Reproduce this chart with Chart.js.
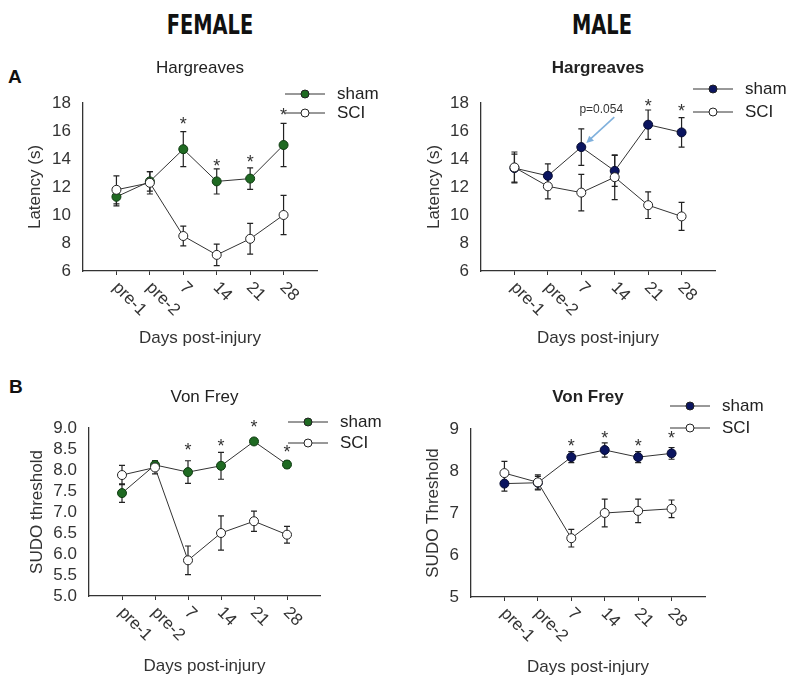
<!DOCTYPE html>
<html>
<head>
<meta charset="utf-8">
<script src="https://cdn.jsdelivr.net/npm/chart.js@4.4.1/dist/chart.umd.min.js"></script>
<style>
  body { margin: 0; background: #fff; }
  #page { position: relative; width: 790px; height: 681px; overflow: hidden; }
  #page canvas { position: absolute; left: 0; top: 0; }
  .head { position: absolute; transform: translateX(-50%) scaleX(0.83); line-height: 26px;
          font-family: "Liberation Sans Narrow", "DejaVu Sans Condensed", "Liberation Sans", sans-serif;
          font-weight: bold; font-size: 26px; color: #111; }
  .tag { position: absolute; line-height: 19px; font-family: "Liberation Sans", Arial, sans-serif;
         font-weight: bold; font-size: 19px; color: #111; }
</style>
</head>
<body>
<div id="page">
  <div class="head" style="left:210px; top:12px">FEMALE</div>
  <div class="head" style="left:602px; top:12px">MALE</div>
  <div class="tag" style="left:8px; top:67px">A</div>
  <div class="tag" style="left:9px; top:377px">B</div>
  <canvas id="femHarg" width="790" height="681"></canvas>
  <canvas id="maleHarg" width="790" height="681"></canvas>
  <canvas id="femVF" width="790" height="681"></canvas>
  <canvas id="maleVF" width="790" height="681"></canvas>
</div>
<script>
// days post-injury
var categories = ['pre-1', 'pre-2', '7', '14', '21', '28'];

// Hargreaves, female
var femHargSham = [11.3, 12.4, 14.7, 12.4, 12.6, 15.0];
var femHargShamErr = [0.65, 0.7, 1.25, 0.9, 0.77, 1.55];
var femHargSci = [11.8, 12.3, 8.5, 7.15, 8.3, 10.0];
var femHargSciErr = [1.0, 0.8, 0.7, 0.77, 1.1, 1.4];
var femHargStars = [null, null, 16.8, 13.8, 14.1, 17.4];

// Hargreaves, male
var maleHargSham = [13.35, 12.8, 14.85, 13.15, 16.45, 15.9];
var maleHargShamErr = [1.0, 0.85, 1.3, 1.1, 1.05, 1.05];
var maleHargSci = [13.4, 12.05, 11.6, 12.7, 10.7, 9.9];
var maleHargSciErr = [1.1, 0.9, 1.3, 1.6, 0.95, 1.0];
var maleHargStars = [null, null, null, null, 18.1, 17.7];

// Von Frey, female
var femVFSham = [7.45, 8.12, 7.95, 8.1, 8.68, 8.13];
var femVFShamErr = [0.22, 0.1, 0.27, 0.32, 0.05, 0.08];
var femVFSci = [7.88, 8.06, 5.85, 6.5, 6.78, 6.46];
var femVFSciErr = [0.23, 0.15, 0.34, 0.41, 0.24, 0.2];
var femVFStars = [null, null, 8.58, 8.66, 9.12, 8.52];

// Von Frey, male
var maleVFSham = [7.7, 7.72, 8.33, 8.5, 8.33, 8.42];
var maleVFShamErr = [0.18, 0.15, 0.13, 0.17, 0.13, 0.14];
var maleVFSci = [7.95, 7.73, 6.4, 7.0, 7.05, 7.1];
var maleVFSciErr = [0.28, 0.18, 0.21, 0.33, 0.28, 0.21];
var maleVFStars = [null, null, 8.7, 8.89, 8.7, 8.89];

var FONT = '"Liberation Sans", Arial, sans-serif';
var YW = 60, XH = 30;

function pts(arr) {
    return arr.map(function(v, i) { return {x: i, y: v}; });
}

function makeDecor(o) {
    return {
        id: 'decor',
        beforeDatasetsDraw: function(chart) {
            var ctx = chart.ctx, xs = chart.scales.x, ys = chart.scales.y;
            ctx.save();
            ctx.strokeStyle = '#222';
            ctx.lineWidth = 1.2;
            chart.data.datasets.forEach(function(ds) {
                ds.data.forEach(function(p, j) {
                    var x = xs.getPixelForValue(p.x);
                    var y1 = ys.getPixelForValue(p.y + ds.err[j]);
                    var y2 = ys.getPixelForValue(p.y - ds.err[j]);
                    ctx.beginPath();
                    ctx.moveTo(x, y1); ctx.lineTo(x, y2);
                    ctx.moveTo(x - 3, y1); ctx.lineTo(x + 3, y1);
                    ctx.moveTo(x - 3, y2); ctx.lineTo(x + 3, y2);
                    ctx.stroke();
                });
            });
            ctx.restore();
        },
        afterDatasetsDraw: function(chart) {
            var ctx = chart.ctx, xs = chart.scales.x, ys = chart.scales.y;
            var a = chart.chartArea;
            ctx.save();
            ctx.fillStyle = '#333';

            // significance stars
            ctx.font = '18px ' + FONT;
            ctx.textAlign = 'center';
            ctx.textBaseline = 'alphabetic';
            o.stars.forEach(function(v, i) {
                if (v === null) return;
                ctx.fillText('*', xs.getPixelForValue(i), ys.getPixelForValue(v) + 10);
            });

            // rotated category labels
            ctx.font = '17px ' + FONT;
            ctx.textAlign = 'left';
            ctx.textBaseline = 'middle';
            categories.forEach(function(c, i) {
                ctx.save();
                ctx.translate(xs.getPixelForValue(i) - 1, a.bottom + 14);
                ctx.rotate(Math.PI / 4);
                ctx.fillText(c, 0, 0);
                ctx.restore();
            });

            // axis titles
            ctx.textAlign = 'center';
            ctx.fillText('Days post-injury', (a.left + a.right) / 2, a.bottom + o.xTitleDy);
            ctx.save();
            ctx.translate(a.left + o.yTitleDx, (a.top + a.bottom) / 2);
            ctx.rotate(-Math.PI / 2);
            ctx.fillText(o.yTitle, 0, 0);
            ctx.restore();

            // panel title
            ctx.fillStyle = '#222';
            ctx.font = (o.bold ? 'bold ' : '') + '17px ' + FONT;
            ctx.fillText(o.title, (a.left + a.right) / 2, a.top - o.titleDy);

            // legend
            var lg = o.legend;
            var rows = [
                {label: 'sham', fill: o.shamColor, y: lg.y},
                {label: 'SCI', fill: '#fff', y: lg.y + lg.gap}
            ];
            ctx.font = '17px ' + FONT;
            ctx.textAlign = 'left';
            rows.forEach(function(r) {
                ctx.strokeStyle = '#333';
                ctx.lineWidth = 1;
                ctx.beginPath();
                ctx.moveTo(lg.x, r.y); ctx.lineTo(lg.x + 40, r.y);
                ctx.stroke();
                ctx.beginPath();
                ctx.arc(lg.x + 20, r.y, 4, 0, Math.PI * 2);
                ctx.fillStyle = r.fill;
                ctx.fill();
                ctx.strokeStyle = '#222';
                ctx.stroke();
                ctx.fillStyle = '#222';
                ctx.fillText(r.label, lg.x + 52, r.y);
            });

            // p-value note with arrow
            if (o.note) {
                var px = xs.getPixelForValue(o.note.index);
                var py = ys.getPixelForValue(o.note.value);
                ctx.font = '12px ' + FONT;
                ctx.textAlign = 'center';
                ctx.fillStyle = '#333';
                ctx.fillText(o.note.text, px + 20, py - 37);
                var tx = px + 33, ty = py - 30, hx = px + 5, hy = py - 4;
                ctx.strokeStyle = '#7fb0dc';
                ctx.fillStyle = '#7fb0dc';
                ctx.lineWidth = 1.6;
                ctx.beginPath();
                ctx.moveTo(tx, ty); ctx.lineTo(hx + 4, hy - 4);
                ctx.stroke();
                var ang = Math.atan2(hy - ty, hx - tx);
                ctx.beginPath();
                ctx.moveTo(hx, hy);
                ctx.lineTo(hx - 8 * Math.cos(ang - 0.45), hy - 8 * Math.sin(ang - 0.45));
                ctx.lineTo(hx - 8 * Math.cos(ang + 0.45), hy - 8 * Math.sin(ang + 0.45));
                ctx.closePath();
                ctx.fill();
            }
            ctx.restore();
        }
    };
}

function panel(id, o) {
    var area = o.area;
    new Chart(document.getElementById(id), {
        type: 'line',
        data: {
            datasets: [
                {label: 'SCI', data: pts(o.sci), err: o.sciErr,
                 borderColor: '#333', borderWidth: 1, tension: 0,
                 pointRadius: 4.5, pointBackgroundColor: '#fff',
                 pointBorderColor: '#222', pointBorderWidth: 1},
                {label: 'sham', data: pts(o.sham), err: o.shamErr,
                 borderColor: '#333', borderWidth: 1, tension: 0,
                 pointRadius: 4.5, pointBackgroundColor: o.shamColor,
                 pointBorderColor: o.shamBorder, pointBorderWidth: 1}
            ]
        },
        options: {
            responsive: false,
            animation: false,
            events: [],
            layout: {padding: {left: area.left - YW, top: area.top,
                               right: 790 - area.right, bottom: 681 - area.bottom - XH}},
            plugins: {legend: {display: false}, tooltip: {enabled: false}},
            scales: {
                x: {
                    type: 'linear', min: -1, max: 6,
                    afterFit: function(s) { s.height = XH; },
                    ticks: {stepSize: 1, color: 'transparent', autoSkip: false,
                            callback: function(v) { return categories[v] || ''; }},
                    grid: {drawOnChartArea: false, drawTicks: true, tickLength: 4,
                           color: function(c) {
                               return (c.tick && c.tick.value >= 0 && c.tick.value <= 5) ? '#333' : 'transparent';
                           }},
                    border: {color: '#333', width: 1.3}
                },
                y: {
                    min: o.yMin, max: o.yMax,
                    afterFit: function(s) { s.width = YW; },
                    ticks: {stepSize: o.yStep, padding: 12, color: '#333', autoSkip: false,
                            font: {family: FONT, size: 17},
                            callback: function(v) { return o.yDec ? v.toFixed(1) : v; }},
                    grid: {drawOnChartArea: false, drawTicks: false},
                    border: {color: '#333', width: 1.3}
                }
            }
        },
        plugins: [makeDecor(o)]
    });
}

var GREEN = '#1f6a22', GREEN_EDGE = '#0e3a10';
var NAVY = '#0b1560', NAVY_EDGE = '#050a30';

panel('femHarg', {
    area: {left: 83, right: 317, top: 103, bottom: 271},
    sham: femHargSham, shamErr: femHargShamErr, sci: femHargSci, sciErr: femHargSciErr,
    stars: femHargStars, shamColor: GREEN, shamBorder: GREEN_EDGE,
    yMin: 6, yMax: 18, yStep: 2, yDec: false,
    title: 'Hargreaves', bold: false, titleDy: 35,
    yTitle: 'Latency (s)', yTitleDx: -48, xTitleDy: 67,
    legend: {x: 285, y: 94, gap: 19}
});

panel('maleHarg', {
    area: {left: 481, right: 715, top: 103, bottom: 271},
    sham: maleHargSham, shamErr: maleHargShamErr, sci: maleHargSci, sciErr: maleHargSciErr,
    stars: maleHargStars, shamColor: NAVY, shamBorder: NAVY_EDGE,
    yMin: 6, yMax: 18, yStep: 2, yDec: false,
    title: 'Hargreaves', bold: true, titleDy: 35,
    yTitle: 'Latency (s)', yTitleDx: -47, xTitleDy: 67,
    legend: {x: 693, y: 89, gap: 23},
    note: {index: 2, value: maleHargSham[2], text: 'p=0.054'}
});

panel('femVF', {
    area: {left: 89, right: 320, top: 428, bottom: 596},
    sham: femVFSham, shamErr: femVFShamErr, sci: femVFSci, sciErr: femVFSciErr,
    stars: femVFStars, shamColor: GREEN, shamBorder: GREEN_EDGE,
    yMin: 5, yMax: 9, yStep: 0.5, yDec: true,
    title: 'Von Frey', bold: false, titleDy: 31,
    yTitle: 'SUDO threshold', yTitleDx: -52, xTitleDy: 70,
    legend: {x: 288, y: 422, gap: 21}
});

panel('maleVF', {
    area: {left: 471, right: 705, top: 429, bottom: 597},
    sham: maleVFSham, shamErr: maleVFShamErr, sci: maleVFSci, sciErr: maleVFSciErr,
    stars: maleVFStars, shamColor: NAVY, shamBorder: NAVY_EDGE,
    yMin: 5, yMax: 9, yStep: 1, yDec: false,
    title: 'Von Frey', bold: true, titleDy: 32,
    yTitle: 'SUDO Threshold', yTitleDx: -38, xTitleDy: 70,
    legend: {x: 670, y: 406, gap: 22}
});
</script>
</body>
</html>
